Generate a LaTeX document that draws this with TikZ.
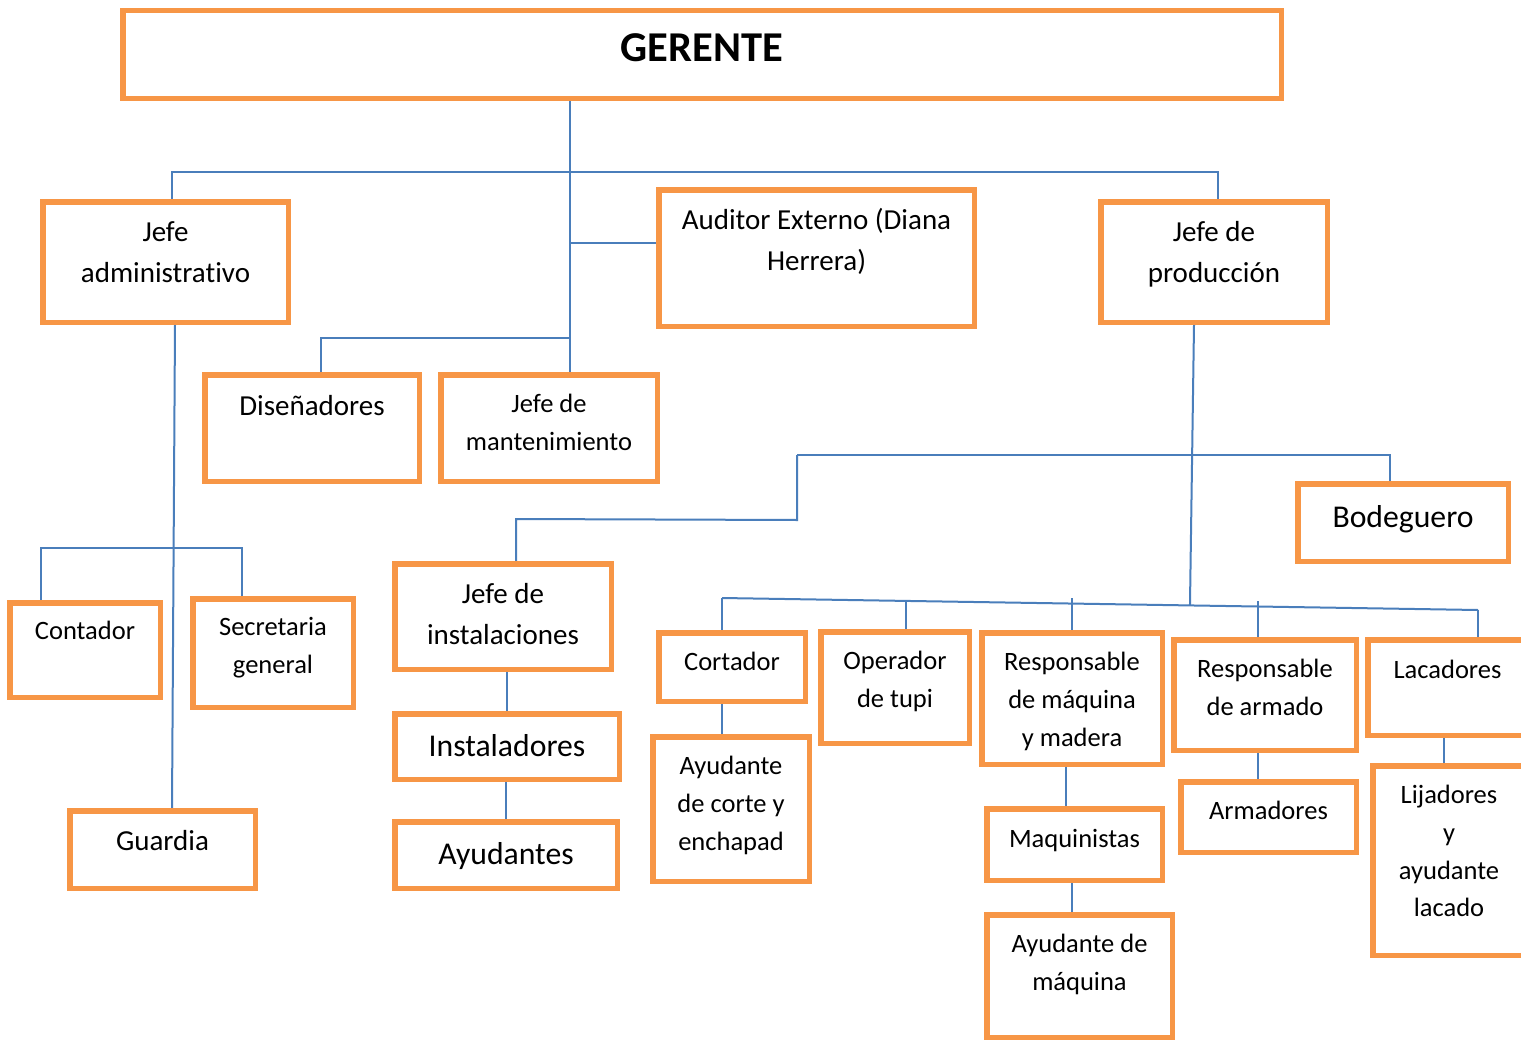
\documentclass[tikz,border=0pt]{standalone}
\usepackage{fontspec}
\setmainfont{Carlito}[Ligatures=NoCommon]
\usetikzlibrary{calc,backgrounds}
\definecolor{boxorange}{HTML}{F79646}
\definecolor{linkblue}{HTML}{4A7EBB}

\tikzset{
  box/.style={draw=boxorange, line width=5.5pt, fill=white, inner sep=0pt, rectangle},
  link/.style={draw=linkblue, line width=2pt},
  lbl/.style={anchor=north, inner sep=0pt, align=center, text=black},
}

% #1 name, #2-#5 outer corners (x1,y1,x2,y2), #6 centre of first text line,
% #7 font size, #8 text
\newcommand\orgbox[8]{%
  \node[box, minimum width={(#4-#2-5.5)*1pt}, minimum height={(#5-#3-5.5)*1pt}]
    (#1) at ({(#2+#4)/2},{(#3+#5)/2}) {};
  \node[lbl, font=\fontsize{#7}{\fpeval{1.42*#7}}\selectfont]
    (#1-t) at ({(#2+#4)/2},{#6-0.67*#7}) {\strut #8};
}

\begin{document}
\begin{tikzpicture}[x=1pt,y=-1pt]
\useasboundingbox (0,0) rectangle (1521,1041);

% boxes
\orgbox{ger}{120}{8}{1284}{101}{48}{42.5}{\bfseries GERENTE}
\orgbox{jadm}{40}{199}{291}{325}{232}{29}{Jefe\\administrativo}
\orgbox{aud}{656}{187}{977}{329}{220}{29}{Auditor Externo (Diana\\Herrera)}
\orgbox{jprod}{1098}{199}{1330}{325}{232}{29}{Jefe de\\producción}
\orgbox{dis}{202}{372}{422}{484}{406}{29}{Diseñadores}
\orgbox{jman}{438}{372}{660}{484}{404}{26.5}{Jefe de\\mantenimiento}
\orgbox{bod}{1295}{481}{1511}{564}{517}{31.7}{Bodeguero}
\orgbox{con}{7}{600}{163}{700}{631}{26.5}{Contador}
\orgbox{sec}{190}{596}{356}{710}{627}{26.5}{Secretaria\\general}
\orgbox{jins}{392}{561}{614}{672}{594}{29}{Jefe de\\instalaciones}
\orgbox{inst}{392}{711}{622}{782}{746}{31.7}{Instaladores}
\orgbox{ayu}{392}{819}{620}{891}{854}{31.7}{Ayudantes}
\orgbox{gua}{67}{808}{258}{891}{841}{29}{Guardia}
\orgbox{cor}{656}{630}{808}{704}{662}{26.5}{Cortador}
\orgbox{ayc}{650}{734}{812}{884}{766}{26.5}{Ayudante\\de corte y\\enchapad}
\orgbox{ope}{818}{629}{972}{746}{661}{26.5}{Operador\\de tupi}
\orgbox{rmq}{979}{630}{1165}{767}{662}{26.5}{Responsable\\de máquina\\y madera}
\orgbox{maq}{984}{806}{1165}{883}{839}{26.5}{Maquinistas}
\orgbox{aym}{984}{912}{1175}{1040}{944}{26.5}{Ayudante de\\máquina}
\orgbox{rarm}{1171}{637}{1359}{753}{669}{26.5}{Responsable\\de armado}
\orgbox{arm}{1178}{779}{1359}{855}{811}{26.5}{Armadores}
\orgbox{lac}{1365}{637}{1530}{738}{670}{26.5}{Lacadores}
\orgbox{lij}{1370}{763}{1528}{958}{795}{26.5}{Lijadores\\y\\ayudante\\lacado}

\begin{scope}[on background layer]
\fill[white] (0,0) rectangle (1521,1041);

% top level
\coordinate (tA) at (570,172);
\coordinate (tB) at (570,243);
\coordinate (tC) at (570,338);
\coordinate (hL) at (172,172);
\coordinate (hR) at (1218,172);
\coordinate (dC) at (321,338);
\draw[link] (ger.south -| tA) -- (jman.north -| tA);
\draw[link] (jadm.north -| hL) -- (hL) -- (hR) -- (jprod.north -| hR);
\draw[link] (tB) -- (aud.west |- tB);
\draw[link] (tC) -- (dC) -- (dis.north -| dC);

% administration
\draw[link] ([xshift=9.5pt]jadm.south) -- ([xshift=9.5pt]gua.north);
\coordinate (aL) at (41,548);
\coordinate (aR) at (242,548);
\draw[link] (con.north -| aL) -- (aL) -- (aR) -- (sec.north -| aR);

% production
\coordinate (pL) at (722,598);
\coordinate (pR) at (1478,610);
\coordinate (pJ) at ($(pL)!0.619!(pR)$);
\draw[link] ([xshift=-20pt]jprod.south) -- (pJ);
\coordinate (bL) at (797,455);
\coordinate (bR) at (1390,455);
\draw[link] (bL) -- (bR) -- (bod.north -| bR);
\coordinate (bM) at (797,520);
\coordinate (bI) at (516,519);
\draw[link] (bL) -- (bM) -- (bI) -- (jins.north -| bI);
\draw[link] (pL) -- (pR);
\draw[link] (pL) -- (cor.north -| pL);
\coordinate (pO) at ($(pL)!0.2434!(pR)$);
\draw[link] (pO) -- (ope.north -| pO);
\coordinate (pM) at (1072,598);
\draw[link] (pM) -- (rmq.north -| pM);
\coordinate (pA) at (1258,601);
\draw[link] (pA) -- (rarm.north -| pA);
\draw[link] (pR) -- (lac.north -| pR);

% stacked boxes
\draw[link] (cor.south -| pL) -- (ayc.north -| pL);
\draw[link] (jins.south -| inst.north) -- (inst.north);
\draw[link] (inst.south -| ayu.north) -- (ayu.north);
\coordinate (vM) at (1066,0);
\draw[link] (rmq.south -| vM) -- (maq.north -| vM);
\coordinate (vN) at (1072,0);
\draw[link] (maq.south -| vN) -- (aym.north -| vN);
\draw[link] (rarm.south -| pA) -- (arm.north -| pA);
\coordinate (vL) at (1444,0);
\draw[link] (lac.south -| vL) -- (lij.north -| vL);
\end{scope}
\end{tikzpicture}
\end{document}
